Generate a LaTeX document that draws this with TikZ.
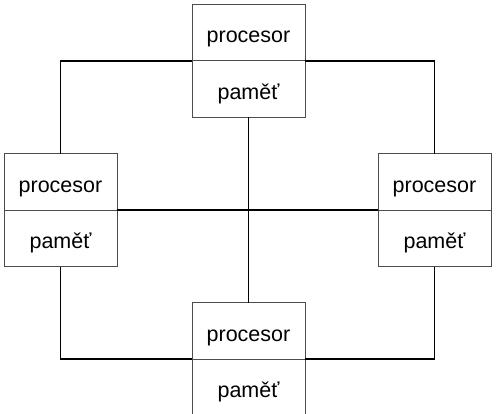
\documentclass[tikz,border=0pt]{standalone}
\usepackage{fontspec}
\setmainfont{Liberation Sans}
\begin{document}
\begin{tikzpicture}[x=1pt,y=-1pt,
  cell/.style={draw=black!70,line width=0.9pt,rectangle,minimum width=113pt,minimum height=56.5pt,inner sep=0pt,outer sep=0pt,text height=21pt,text depth=0pt,font=\fontsize{21.5}{25}\selectfont},
  wire/.style={draw=black,line width=1.6pt}]
\useasboundingbox (0,0) rectangle (496,414);
% top
\node[cell] (tp) at (248.5,32.5) {procesor};
\node[cell,anchor=north] (tm) at (tp.south) {paměť};
% left
\node[cell] (lp) at (60.5,182) {procesor};
\node[cell,anchor=north] (lm) at (lp.south) {paměť};
% right
\node[cell] (rp) at (434.5,182) {procesor};
\node[cell,anchor=north] (rm) at (rp.south) {paměť};
% bottom
\node[cell] (bp) at (248.5,331) {procesor};
\node[cell,anchor=north,minimum height=62pt,text height=14pt] (bm) at (bp.south) {paměť};
% wires
\draw[wire] (tm.north west) -| (lp.north);
\draw[wire] (tm.north east) -| (rp.north);
\draw[wire] (lm.south) |- (bp.south west);
\draw[wire] (rm.south) |- (bp.south east);
\draw[wire] (tm.south) -- (bp.north);
\draw[wire] (lp.south east) -- (rp.south west);
\end{tikzpicture}
\end{document}
